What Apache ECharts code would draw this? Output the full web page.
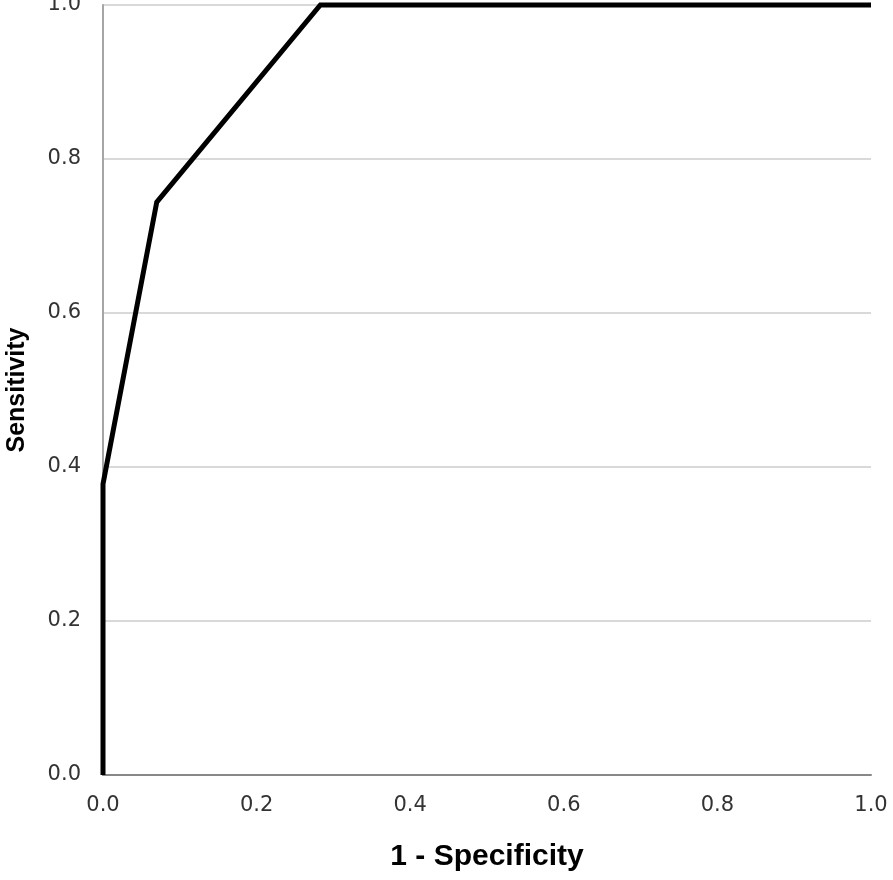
<!DOCTYPE html>
<html><head><meta charset="utf-8">
<script src="https://cdn.jsdelivr.net/npm/echarts@6/dist/echarts.min.js"></script>
<style>html,body{margin:0;padding:0;background:#fff}#c{width:893px;height:880px}</style>
</head><body><div id="c"></div>
<script>
const fpr = [0, 0, 0.070, 0.283, 1.0];
const tpr = [0, 0.378, 0.744, 1.0, 1.0];
const xTicks = [0, 0.2, 0.4, 0.6, 0.8, 1.0];
const yTicks = [0, 0.2, 0.4, 0.6, 0.8, 1.0];
const xTitle = '1 - Specificity';
const yTitle = 'Sensitivity';

const chart = echarts.init(document.getElementById('c'));
const labelStyle = {fontFamily: 'DejaVu Sans', fontSize: 21, color: '#333', formatter: v => v.toFixed(1)};
chart.setOption({
  animation: false,
  grid: {left: 103, right: 22, top: 5, bottom: 105, containLabel: false, outerBoundsMode: 'none'},
  xAxis: {
    type: 'value', min: 0, max: 1, interval: 0.2,
    name: xTitle, nameLocation: 'middle', nameGap: 67,
    nameTextStyle: {fontFamily: 'Liberation Sans', fontWeight: 'bold', fontSize: 30, color: '#000'},
    axisLine: {show: true, lineStyle: {color: '#888', width: 2}},
    axisTick: {show: false},
    splitLine: {show: false},
    axisLabel: Object.assign({margin: 20}, labelStyle)
  },
  yAxis: {
    type: 'value', min: 0, max: 1, interval: 0.2,
    name: yTitle, nameLocation: 'middle', nameGap: 73,
    nameTextStyle: {fontFamily: 'Liberation Sans', fontWeight: 'bold', fontSize: 25, color: '#000'},
    axisLine: {show: true, lineStyle: {color: '#a6a6a6', width: 2}},
    axisTick: {show: false},
    splitLine: {show: true, lineStyle: {color: '#d9d9d9', width: 2}},
    axisLabel: Object.assign({margin: 22}, labelStyle)
  },
  series: [{
    type: 'line',
    data: fpr.map((x, i) => [x, tpr[i]]),
    symbol: 'none',
    lineStyle: {color: '#000', width: 5, join: 'miter'},
    clip: false
  }]
});
</script></body></html>
